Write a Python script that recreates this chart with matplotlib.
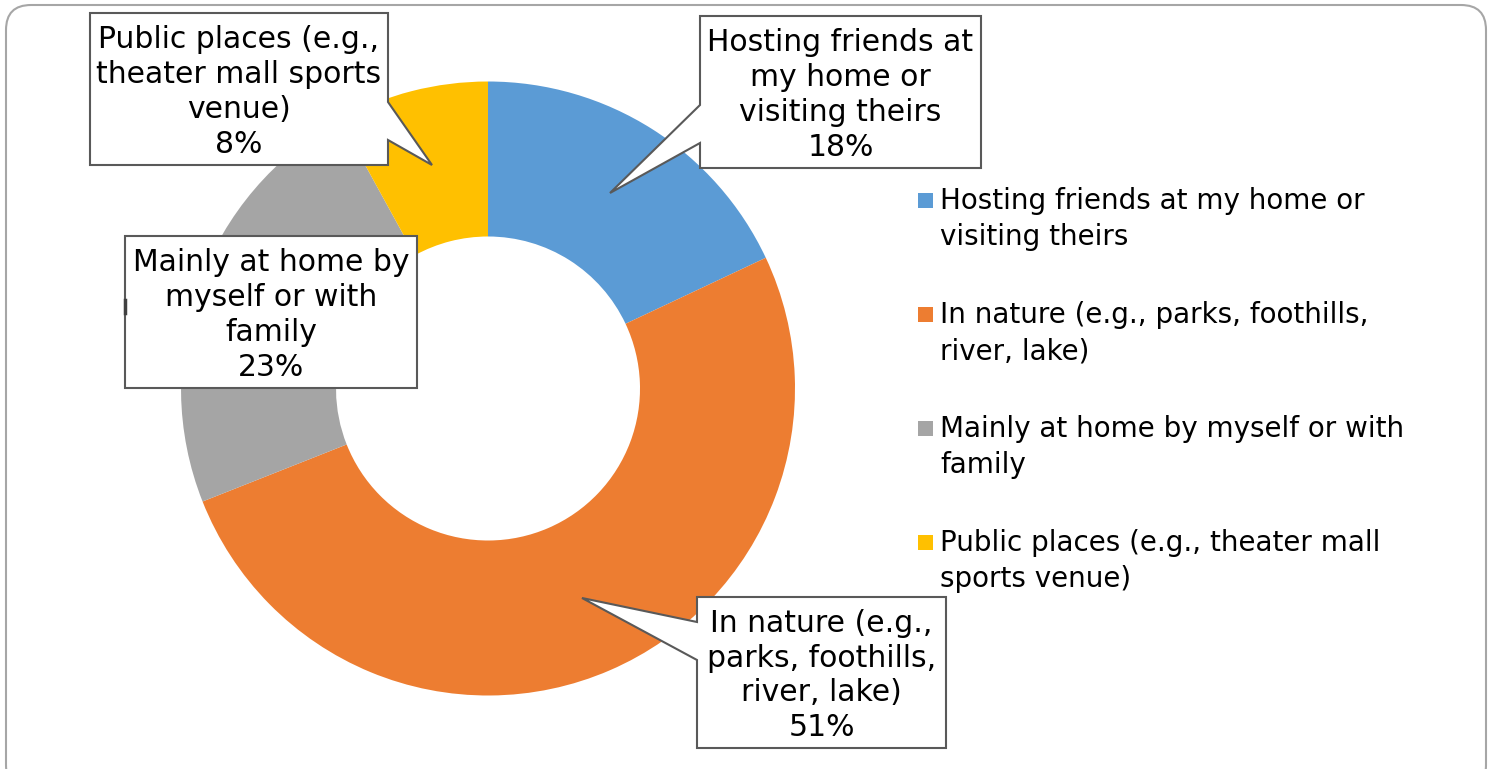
import numpy as np
import matplotlib.pyplot as plt
from matplotlib.patches import Polygon, FancyBboxPatch, Rectangle

# data
categories = ['Hosting friends at my home or visiting theirs',
              'In nature (e.g., parks, foothills, river, lake)',
              'Mainly at home by myself or with family',
              'Public places (e.g., theater mall sports venue)']
values = [18, 51, 23, 8]
colors = ['#5B9BD5', '#ED7D31', '#A5A5A5', '#FFC000']
callout_text = ['Hosting friends at\nmy home or\nvisiting theirs',
                'In nature (e.g.,\nparks, foothills,\nriver, lake)',
                'Mainly at home by\nmyself or with\nfamily',
                'Public places (e.g.,\ntheater mall sports\nvenue)']
legend_text = ['Hosting friends at my home or\nvisiting theirs',
               'In nature (e.g., parks, foothills,\nriver, lake)',
               'Mainly at home by myself or with\nfamily',
               'Public places (e.g., theater mall\nsports venue)']

W, H = 1491, 769
fig = plt.figure(figsize=(W / 100, H / 100), dpi=100)
ax = fig.add_axes([0, 0, 1, 1])

def py(y):  # pixel row -> data y
    return H - y

fs_box = 21.5
fs_leg = 20

wedges, _ = ax.pie(values, colors=colors, startangle=90, counterclock=False,
                   center=(488, py(388.5)), radius=307,
                   wedgeprops=dict(width=155, linewidth=0))
ax.set_xlim(0, W)
ax.set_ylim(0, H)
ax.set_aspect('equal')
ax.axis('off')

# outer rounded frame
ax.add_patch(FancyBboxPatch((6 + 25, py(790) + 25), 1480 - 50, 785 - 50,
                            boxstyle='round,pad=25', fc='none', ec='#A6A6A6', lw=1.5))

# callout boxes: (left, top, right, bottom), pointer side, pointer y0, y1, tip
boxes = [
    ((700, 16, 981, 168), 'left', 105, 143, (610, 193)),
    ((697, 597, 946, 748), 'left', 622, 660, (582, 598)),
    ((125, 236, 417, 388), 'left', 300, 313, (125, 306)),
    ((90, 13, 388, 165), 'right', 102, 140, (432, 165)),
]

for i, (b, side, y0, y1, tip) in enumerate(boxes):
    l, t, r, btm = b
    if side == 'left':
        pts = [(l, t), (r, t), (r, btm), (l, btm), (l, y1), tip, (l, y0)]
    else:
        pts = [(l, t), (r, t), (r, y0), tip, (r, y1), (r, btm), (l, btm)]
    pts = [(x, py(y)) for x, y in pts]
    ax.add_patch(Polygon(pts, closed=True, fc='white', ec='#595959', lw=1.5, zorder=5))
    label = callout_text[i] + '\n' + f'{values[i]}%'
    ax.text((l + r) / 2, py((t + btm) / 2 + 3), label, ha='center', va='center',
            fontsize=fs_box, linespacing=1.25, color='black', zorder=6)

# small dark tick on the gray callout's left edge
ax.plot([125, 125], [py(300), py(313)], color='#404040', lw=2.5, zorder=7)

# legend
leg_y = [200, 314, 428, 542]
for i, txt in enumerate(legend_text):
    ax.add_patch(Rectangle((918, py(leg_y[i] + 8)), 15, 15, fc=colors[i], ec='none'))
    ax.text(940, py(leg_y[i] - 13), txt, ha='left', va='top', fontsize=fs_leg,
            linespacing=1.38, color='black')

fig.savefig('out.png', dpi=100)
